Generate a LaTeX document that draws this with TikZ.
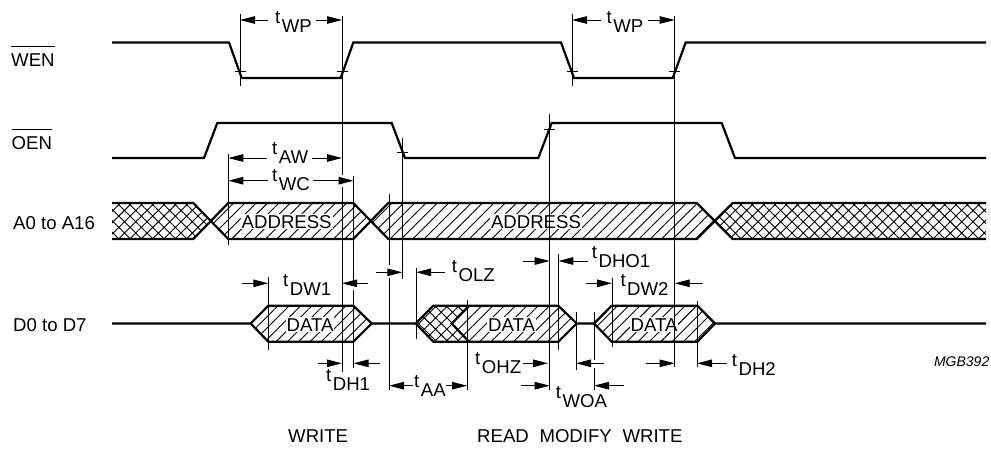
\documentclass[tikz,border=0pt]{standalone}
\usepackage{fontspec}
\usepackage{xcolor}
\usetikzlibrary{arrows.meta,patterns.meta}
\setmainfont{Liberation Sans}
\newcommand{\tname}[1]{\raisebox{9pt}{t}\hspace{1.5pt}#1}
\tikzset{
  signal/.style={line width=2.2pt,line join=miter},
  guide/.style={line width=0.9pt},
  timearrow/.style={line width=0.9pt,-{Triangle[length=15pt,width=7.5pt]}},
  hatched/.style={pattern={Lines[angle=45,distance=8pt,line width=0.9pt]}},
  crossed/.style={pattern={Hatch[angle=45,distance=8pt,line width=0.9pt]}},
  caption/.style={inner sep=0pt,font=\fontsize{18.6}{20}\selectfont},
  tlabel/.style={caption,anchor=base west},
  inbus/.style={caption,anchor=base,fill=white,inner ysep=1pt,inner xsep=1pt}
}

\begin{document}
\begin{tikzpicture}[x=1pt,y=-1pt]
  \useasboundingbox (0,0) rectangle (991,448);

  % Bus fills
  \path[crossed] (112,203) -- (193.3,203) -- (211,221) -- (193.3,239) -- (112,239) -- cycle;
  \path[hatched] (211,221) -- (228.3,203) -- (353.3,203) -- (371,221) -- (353.3,239) -- (228.3,239) -- cycle;
  \path[hatched] (371,221) -- (388.3,203) -- (696.7,203) -- (715,221) -- (696.7,239) -- (388.3,239) -- cycle;
  \path[crossed] (715,221) -- (732.7,203) -- (986,203) -- (986,239) -- (732.7,239) -- cycle;

  % Data fills
  \path[hatched] (250.7,323.5) -- (268.3,305.7) -- (353.3,305.7) -- (371.7,323.5) -- (353.3,341.7) -- (268.3,341.7) -- cycle;
  \path[crossed] (415.7,323.5) -- (433.3,305.7) -- (469,305.7) -- (451.7,323.5) -- (469,341.7) -- (433.3,341.7) -- cycle;
  \path[hatched] (451.7,323.5) -- (469,305.7) -- (558.3,305.7) -- (576.7,323.5) -- (558.3,341.7) -- (469,341.7) -- cycle;
  \path[hatched] (594,323.5) -- (611.7,305.7) -- (697.3,305.7) -- (715,323.5) -- (697.3,341.7) -- (611.7,341.7) -- cycle;

  % Text on the buses
  \node[inbus] (addr1) at (286.7,228.3) {ADDRESS};
  \node[inbus] (addr2) at (536,228.3) {ADDRESS};
  \node[inbus] (data1) at (310,331) {DATA};
  \node[inbus] (data2) at (511.5,331) {DATA};
  \node[inbus] (data3) at (654,331) {DATA};

  % WEN and OEN
  \draw[signal] (112,42.5) -- (229,42.5) -- (241.7,78) -- (340.7,78) -- (353.3,42.5) -- (561,42.5) -- (574,78) -- (672.7,78) -- (685.7,42.5) -- (986,42.5);
  \draw[signal] (112,158) -- (204,158) -- (217.3,123) -- (391.7,123) -- (405,158) -- (538.3,158) -- (551.7,123) -- (721.7,123) -- (735,158) -- (986,158);

  % Address outline
  \draw[signal] (112,203) -- (193.3,203) -- (228.3,239) -- (353.3,239) -- (388.3,203) -- (696.7,203) -- (732.7,239) -- (986,239);
  \draw[signal] (112,239) -- (193.3,239) -- (228.3,203) -- (353.3,203) -- (388.3,239) -- (696.7,239) -- (732.7,203) -- (986,203);

  % Data outline
  \draw[signal] (112,323.5) -- (250.7,323.5) -- (268.3,305.7) -- (353.3,305.7) -- (371.7,323.5) -- (415.7,323.5) -- (433.3,305.7) -- (558.3,305.7) -- (576.7,323.5) -- (594,323.5) -- (611.7,305.7) -- (697.3,305.7) -- (715,323.5) -- (986,323.5);
  \draw[signal] (250.7,323.5) -- (268.3,341.7) -- (353.3,341.7) -- (371.7,323.5);
  \draw[signal] (415.7,323.5) -- (433.3,341.7) -- (558.3,341.7) -- (576.7,323.5);
  \draw[signal] (594,323.5) -- (611.7,341.7) -- (697.3,341.7) -- (715,323.5);
  \draw[signal] (469,305.7) -- (451.7,323.5) -- (469,341.7);

  % Guide lines
  \draw[guide] (240,14) -- (240,86);
  \draw[guide] (572,14) -- (572,86);
  \draw[guide] (342,16) -- (342,175) (342,187) -- (342,372);
  \draw[guide] (353.5,176) -- (353.5,283) (353.5,290) -- (353.5,368);
  \draw[guide] (674.7,16) -- (674.7,367);
  \draw[guide] (228.3,154) -- (228.3,245);
  \draw[guide] (268.3,277) -- (268.3,350);
  \draw[guide] (389,194) -- (389,265) (389,278) -- (389,390);
  \draw[guide] (402.3,138) -- (402.3,279);
  \draw[guide] (416,268) -- (416,339);
  \draw[guide] (467,300) -- (467,390);
  \draw[guide] (549.7,114) -- (549.7,390);
  \draw[guide] (558.3,254) -- (558.3,350);
  \draw[guide] (576,312) -- (576,370);
  \draw[guide] (594,312) -- (594,360) (594,368) -- (594,390);
  \draw[guide] (612,278) -- (612,347);
  \draw[guide] (697,300.7) -- (697,367);

  % Ticks on the edges
  \foreach \tx/\ty in {240/71.5,342/71.5,572/71.5,674.7/71.5,402.3/152,549.7/129}
    \draw[guide] (\tx-5.5,\ty) -- (\tx+5.5,\ty);

  % tWP
  \draw[timearrow] (268,20) -- (240,20);
  \draw[timearrow] (316,20) -- (342,20);
  \node[tlabel] (twp1) at (275,32) {\tname{WP}};
  \draw[timearrow] (601,20) -- (572,20);
  \draw[timearrow] (648,20) -- (674.7,20);
  \node[tlabel] (twp2) at (606.5,32) {\tname{WP}};

  % tAW, tWC
  \draw[timearrow] (267,158) -- (228.3,158);
  \draw[timearrow] (312,158) -- (342,158);
  \node[tlabel] (taw) at (272,163) {\tname{AW}};
  \draw[timearrow] (268,180.7) -- (228.3,180.7);
  \draw[timearrow] (313,180.7) -- (353.5,180.7);
  \node[tlabel] (twc) at (272,190.7) {\tname{WC}};

  % tDW1, tDH1
  \draw[timearrow] (242,283.3) -- (268.3,283.3);
  \draw[timearrow] (368,283.3) -- (342,283.3);
  \node[tlabel] (tdw1) at (283,295) {\tname{DW1}};
  \draw[timearrow] (318,363.3) -- (342,363.3);
  \draw[timearrow] (380,363.3) -- (353.5,363.3);
  \node[tlabel] (tdh1) at (326,390.7) {\tname{DH1}};

  % tOLZ, tAA
  \draw[timearrow] (376,272.3) -- (402.3,272.3);
  \draw[timearrow] (445,272.3) -- (416,272.3);
  \node[tlabel] (tolz) at (451.7,281) {\tname{OLZ}};
  \draw[timearrow] (413,385.7) -- (389,385.7);
  \draw[timearrow] (445.7,385.7) -- (467,385.7);
  \node[tlabel] (taa) at (414,396.7) {\tname{AA}};

  % tDHO1, tOHZ
  \draw[timearrow] (523,261) -- (549.7,261);
  \draw[timearrow] (587.7,261) -- (558.3,261);
  \node[tlabel] (tdho) at (591.7,267.3) {\tname{DHO1}};
  \draw[timearrow] (523,363.3) -- (548,363.3);
  \node[tlabel] (tohz) at (475,373.3) {\tname{OHZ}};

  % tWOA
  \draw[timearrow] (604,363.3) -- (576,363.3);
  \draw[timearrow] (521,385.7) -- (549.7,385.7);
  \draw[timearrow] (624,385.7) -- (594,385.7);
  \node[tlabel] (twoa) at (555.7,407.7) {\tname{WOA}};

  % tDW2, tDH2
  \draw[timearrow] (585.7,283.3) -- (612,283.3);
  \draw[timearrow] (703,283.3) -- (674.7,283.3);
  \node[tlabel] (tdw2) at (620.3,295) {\tname{DW2}};
  \draw[timearrow] (645.7,363.3) -- (674.7,363.3);
  \draw[timearrow] (726.7,363.3) -- (697,363.3);
  \node[tlabel] (tdh2) at (731.7,375) {\tname{DH2}};

  % Signal names
  \node[tlabel] (wen) at (11,66.7) {WEN};
  \draw[guide] (wen.west |- 0,46.7) -- (wen.east |- 0,46.7);
  \node[tlabel] (oen) at (11.5,149) {OEN};
  \draw[guide] (oen.west |- 0,129) -- (oen.east |- 0,129);
  \node[tlabel] (addrname) at (13,229) {A0 to A16};
  \node[tlabel] (dataname) at (13,331) {D0 to D7};

  % Phases
  \node[tlabel] (write) at (288,442.3) {WRITE};
  \node[tlabel] (rmw) at (477,442.3) {READ\hspace{5.5pt} MODIFY\hspace{5.5pt} WRITE};
  \node[inner sep=0pt,anchor=base east,font=\fontsize{14}{16}\selectfont\itshape] (mgb) at (989.5,366) {MGB392};
\end{tikzpicture}
\end{document}
